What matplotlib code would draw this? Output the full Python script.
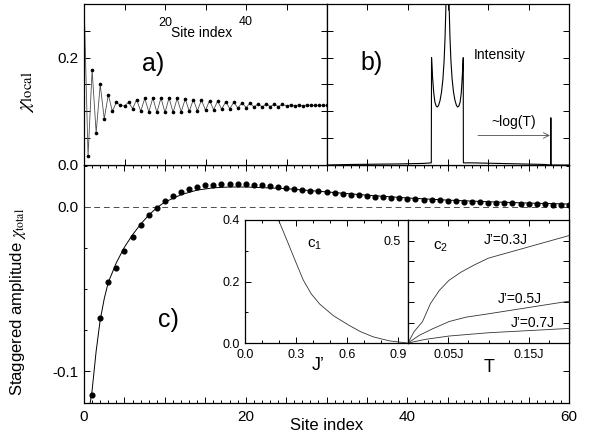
import matplotlib
matplotlib.use('Agg')
import matplotlib.pyplot as plt
from matplotlib.ticker import MultipleLocator, FixedLocator, FuncFormatter, NullFormatter
from matplotlib.transforms import blended_transform_factory

plt.rcParams['font.family'] = ['Liberation Sans', 'DejaVu Sans']
plt.rcParams['mathtext.fontset'] = 'stix'
plt.rcParams['axes.unicode_minus'] = False

# ---------------- data ----------------
# panel a: local susceptibility vs site index
site_a = list(range(61))
chi_local = [0.310, 0.016, 0.177, 0.060, 0.150, 0.086, 0.131, 0.100, 0.117, 0.111,
             0.110, 0.117, 0.105, 0.122, 0.100, 0.124, 0.099, 0.125, 0.098, 0.125,
             0.098, 0.125, 0.098, 0.124, 0.099, 0.123, 0.100, 0.122, 0.101, 0.121,
             0.102, 0.120, 0.103, 0.119, 0.104, 0.118, 0.105, 0.117, 0.106, 0.116,
             0.107, 0.115, 0.108, 0.114, 0.108, 0.114, 0.109, 0.113, 0.109, 0.113,
             0.110, 0.112, 0.110, 0.112, 0.110, 0.112, 0.111, 0.111, 0.111, 0.111,
             0.111]

# panel b: intensity spectrum (arbitrary energy axis)
b_x = [0.0, 0.10, 0.20, 0.30, 0.40, 0.431, 0.432, 0.436, 0.441, 0.446, 0.451, 0.456,
       0.461, 0.467, 0.473, 0.479, 0.484, 0.488, 0.491, 0.4925, 0.5035, 0.505, 0.508,
       0.512, 0.517, 0.523, 0.529, 0.535, 0.540, 0.545, 0.550, 0.555, 0.559, 0.563,
       0.5635, 0.60, 0.70, 0.80, 0.90, 0.924, 0.925, 0.926, 1.0]
b_y = [0.000, 0.001, 0.0015, 0.002, 0.003, 0.004, 0.200, 0.165, 0.135, 0.117, 0.110,
       0.108, 0.111, 0.120, 0.135, 0.160, 0.195, 0.240, 0.290, 0.330, 0.330, 0.290,
       0.240, 0.195, 0.160, 0.135, 0.120, 0.111, 0.108, 0.110, 0.117, 0.135, 0.165,
       0.200, 0.004, 0.004, 0.003, 0.002, 0.001, 0.000, 0.088, 0.000, 0.000]

# panel c: staggered amplitude
site_c = list(range(1, 61))
chi_total = [-0.1146, -0.0679, -0.0455, -0.0370, -0.0268, -0.0181, -0.0112, -0.0051,
             -0.0004, 0.0035, 0.0067, 0.0090, 0.0108, 0.0124, 0.0132, 0.0136, 0.0140,
             0.0140, 0.0140, 0.0138, 0.0136, 0.0132, 0.0128, 0.0122, 0.0116, 0.0110,
             0.0105, 0.0100, 0.0095, 0.0090, 0.0085, 0.0080, 0.0075, 0.0071, 0.0067,
             0.0063, 0.0059, 0.0056, 0.0053, 0.0050, 0.0047, 0.0045, 0.0042, 0.0040,
             0.0038, 0.0035, 0.0033, 0.0031, 0.0029, 0.0027, 0.0026, 0.0024, 0.0022,
             0.0021, 0.0019, 0.0018, 0.0016, 0.0015, 0.0014, 0.0013]
fit_x = [0.5, 1.0, 1.5, 2.0, 2.5, 3, 4, 5, 6, 7, 8, 9, 10, 12, 14, 16, 18, 20, 25,
         30, 35, 40, 45, 50, 55, 60]
fit_y = [-0.128, -0.112, -0.088, -0.069, -0.056, -0.046, -0.034, -0.0245, -0.017,
         -0.0105, -0.005, -0.0005, 0.003, 0.0075, 0.0103, 0.0117, 0.0122, 0.0122,
         0.0112, 0.0092, 0.0072, 0.0055, 0.0042, 0.0032, 0.0024, 0.0018]

# inset c1
c1_j = [0.19, 0.25, 0.30, 0.343, 0.39, 0.441, 0.52, 0.608, 0.68, 0.755, 0.85, 0.955]
c1_v = [0.41, 0.33, 0.262, 0.205, 0.160, 0.126, 0.089, 0.059, 0.037, 0.020, 0.007, 0.0]

# inset c2
c2_T_03 = [0, 0.0075, 0.018, 0.028, 0.039, 0.051, 0.066, 0.083, 0.100, 0.2]
c2_v_03 = [0, 0.055, 0.104, 0.193, 0.257, 0.306, 0.346, 0.382, 0.414, 0.524]
c2_T_05 = [0, 0.0138, 0.0304, 0.0513, 0.0721, 0.0992, 0.2]
c2_v_05 = [0, 0.037, 0.069, 0.105, 0.126, 0.142, 0.204]
c2_T_07 = [0, 0.022, 0.051, 0.1, 0.2]
c2_v_07 = [0, 0.018, 0.034, 0.050, 0.071]

# ---------------- layout ----------------
W, H = 593, 437
fig = plt.figure(figsize=(W / 100, H / 100), dpi=100)


def rect(x0, y0, x1, y1):
    return [x0 / W, 1 - y1 / H, (x1 - x0) / W, (y1 - y0) / H]


def ftext(x, y, s, **kw):
    kw.setdefault('ha', 'center')
    kw.setdefault('va', 'center')
    fig.text(x / W, 1 - y / H, s, **kw)


LW = 0.9


def style(ax, size=11):
    for sp in ax.spines.values():
        sp.set_linewidth(LW)
    ax.tick_params(which='both', direction='in', top=True, right=True,
                   labelsize=size, width=0.7)
    ax.tick_params(which='major', length=4)
    ax.tick_params(which='minor', length=2)


# main panel c
axc = fig.add_axes(rect(84, 165, 569, 403))
style(axc)
axc.set_xlim(0, 60)
axc.set_ylim(-0.1195, 0.0256)
axc.axhline(0, color='0.3', lw=0.7, dashes=(6, 4))
axc.plot(fit_x, fit_y, color='black', lw=0.7)
axc.plot(site_c, chi_total, 'o', color='black', ms=3.4)
axc.xaxis.set_major_locator(MultipleLocator(5))
axc.xaxis.set_minor_locator(MultipleLocator(1))
axc.xaxis.set_major_formatter(FuncFormatter(lambda v, p: f'{int(round(v))}' if round(v) % 20 == 0 else ''))
axc.yaxis.set_major_locator(FixedLocator([-0.1, 0.0]))
axc.yaxis.set_minor_locator(MultipleLocator(0.025))
axc.yaxis.set_major_formatter(FuncFormatter(lambda v, p: f'{v:.1f}'))
axc.tick_params(axis='x', pad=5)
axc.tick_params(axis='y', pad=4)

# panel a
axa = fig.add_axes(rect(84, 4, 327, 165))
style(axa)
axa.set_xlim(0, 60)
axa.set_ylim(0, 0.3)
axa.plot(site_a, chi_local, color='0.3', lw=0.6, marker='o', ms=1.6,
         mfc='black', mec='black')
axa.xaxis.set_major_locator(MultipleLocator(10))
axa.xaxis.set_major_formatter(NullFormatter())
axa.yaxis.set_major_locator(MultipleLocator(0.05))
axa.yaxis.set_major_formatter(FuncFormatter(lambda v, p: f'{v:.1f}' if abs(v - 0.0) < 1e-9 or abs(v - 0.2) < 1e-9 else ''))
axa.tick_params(axis='y', pad=4)
bt = blended_transform_factory(axa.transData, axa.transAxes)
axa.text(20, 0.885, '20', transform=bt, ha='center', va='center', fontsize=9)
axa.text(40, 0.89, '40', transform=bt, ha='center', va='center', fontsize=9)

# panel b
axb = fig.add_axes(rect(327, 4, 569, 165))
style(axb)
axb.set_xlim(0, 1)
axb.set_ylim(0, 0.3)
axb.plot(b_x, b_y, color='black', lw=0.8)
axb.xaxis.set_major_locator(MultipleLocator(1 / 6))
axb.xaxis.set_major_formatter(NullFormatter())
axb.yaxis.set_major_locator(MultipleLocator(0.05))
axb.yaxis.set_major_formatter(NullFormatter())
axb.annotate('', xy=(0.921, 0.055), xytext=(0.624, 0.055),
             arrowprops=dict(arrowstyle='->', color='0.3', lw=0.6, shrinkA=0, shrinkB=0))

# inset c1
ax1 = fig.add_axes(rect(245, 220, 408, 343))
style(ax1, 9)
ax1.set_xlim(0, 0.96)
ax1.set_ylim(0, 0.4)
ax1.plot(c1_j, c1_v, color='0.2', lw=0.6)
ax1.xaxis.set_major_locator(MultipleLocator(0.3))
ax1.xaxis.set_minor_locator(MultipleLocator(0.1))
ax1.xaxis.set_major_formatter(FuncFormatter(lambda v, p: f'{v:.1f}'))
ax1.yaxis.set_major_locator(MultipleLocator(0.2))
ax1.yaxis.set_minor_locator(MultipleLocator(0.1))
ax1.yaxis.set_major_formatter(FuncFormatter(lambda v, p: f'{v:.1f}'))
ax1.tick_params(axis='both', pad=4)
ax1.tick_params(right=False, which='both')

# inset c2
ax2 = fig.add_axes(rect(408, 220, 569, 343))
style(ax2, 9)
ax2.set_xlim(0, 0.2)
ax2.set_ylim(0, 0.6)
ax2.plot(c2_T_03, c2_v_03, color='0.2', lw=0.6)
ax2.plot(c2_T_05, c2_v_05, color='0.2', lw=0.6)
ax2.plot(c2_T_07, c2_v_07, color='0.2', lw=0.6)
ax2.xaxis.set_major_locator(FixedLocator([0.05, 0.15]))
ax2.xaxis.set_minor_locator(MultipleLocator(0.025))
ax2.xaxis.set_major_formatter(FuncFormatter(lambda v, p: f'{v:.2f}J'))
ax2.yaxis.set_major_locator(MultipleLocator(0.1))
ax2.yaxis.set_major_formatter(FuncFormatter(lambda v, p: '0.5' if abs(v - 0.5) < 1e-9 else ''))
ax2.tick_params(axis='both', pad=4)
ax2.tick_params(axis='y', pad=5)

# ---------------- texts ----------------
ftext(202, 33, 'Site index', fontsize=10)
ftext(153, 64, 'a)', fontsize=18)
ftext(372, 63, 'b)', fontsize=18)
ftext(168, 320, 'c)', fontsize=18)
ftext(500, 55, 'Intensity', fontsize=10)
ftext(514, 122, '~log(T)', fontsize=10)
ftext(26, 92, r'$\chi_{\rm local}$', fontsize=15, rotation=90)
ftext(18, 302, r'Staggered amplitude $\chi_{\rm total}$', fontsize=12, rotation=90)
ftext(327, 426, 'Site index', fontsize=12)
ftext(315, 245, r'c$_\mathregular{1}$', fontsize=11)
ftext(441, 247, r'c$_\mathregular{2}$', fontsize=11)
ftext(506, 240, 'J’=0.3J', fontsize=10)
ftext(520, 299, 'J’=0.5J', fontsize=10)
ftext(533, 323, 'J’=0.7J', fontsize=10)
ftext(318, 366, 'J’', fontsize=13)
ftext(489, 368, 'T', fontsize=13)

fig.savefig('out.png', dpi=100)
